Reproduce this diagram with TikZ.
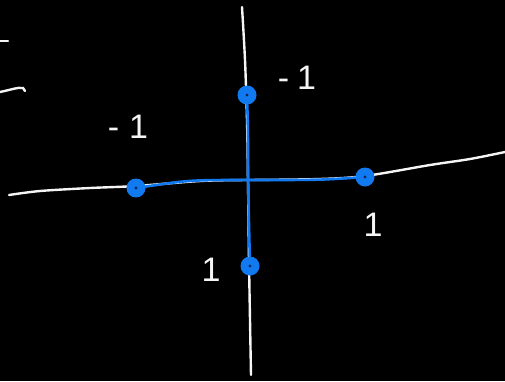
\documentclass[tikz,border=0pt]{standalone}
\usepackage{fontspec}
\setmainfont{Liberation Sans}
\usetikzlibrary{positioning,calc}
\definecolor{inkwhite}{RGB}{245,245,245}
\definecolor{inkblue}{RGB}{18,122,240}
\definecolor{inkdot}{RGB}{10,40,90}

\begin{document}
\begin{tikzpicture}[x=1pt, y=-1pt,
    axis/.style={inkwhite, line width=2.4pt, line cap=round},
    cross/.style={inkblue, line width=2.6pt, line cap=round},
    blob/.style={circle, fill=inkblue, minimum size=19pt, inner sep=0pt},
    numlabel/.style={inkwhite, font=\fontsize{34}{34}\selectfont}]

    % Background
    \fill[black] (0,0) rectangle (505,381);
    \useasboundingbox (0,0) rectangle (505,381);

    % Axes
    \draw[axis] plot[smooth] coordinates {(242,7) (245,60) (247,120) (248,180) (249,260) (250,320) (251,375)};
    \draw[axis] plot[smooth] coordinates {(9,195) (40,191) (90,188) (136,186) (200,181) (248,180)};
    \draw[axis] plot[smooth] coordinates {(248,180) (320,179) (365,176) (430,165) (470,159) (505,152)};

    % Edge fragments
    \draw[axis] (0,41) -- (8,41);
    \draw[axis] (0,92) .. controls (10,90) and (18,87) .. (23,88) -- (25,91);

    % Points on the cross
    \coordinate (c) at (248,180);
    \node[blob] (top) at (247,95) {};
    \node[blob] (bot) at (250,266) {};
    \node[blob] (lft) at (136,188) {};
    \node[blob] (rgt) at (365,177) {};
    \foreach \p in {top,bot,lft,rgt} {
        \fill[inkdot] (\p) circle (1.6pt);
    }

    % Cross
    \draw[cross] (top) .. controls (248,130) .. (c);
    \draw[cross] (c) .. controls (249,225) .. (bot);
    \draw[cross] (lft) .. controls (190,180) .. (c);
    \draw[cross] (c) .. controls (320,180) .. (rgt);

    % Labels
    \node[numlabel] (nleft) at (128,127) {-\hspace{10pt}1};
    \node[numlabel] (ntop) at (297,78) {-\hspace{8pt}1};
    \node[numlabel] (nright) at (373,225) {1};
    \node[numlabel] (nbot) at (211,270) {1};

\end{tikzpicture}
\end{document}
